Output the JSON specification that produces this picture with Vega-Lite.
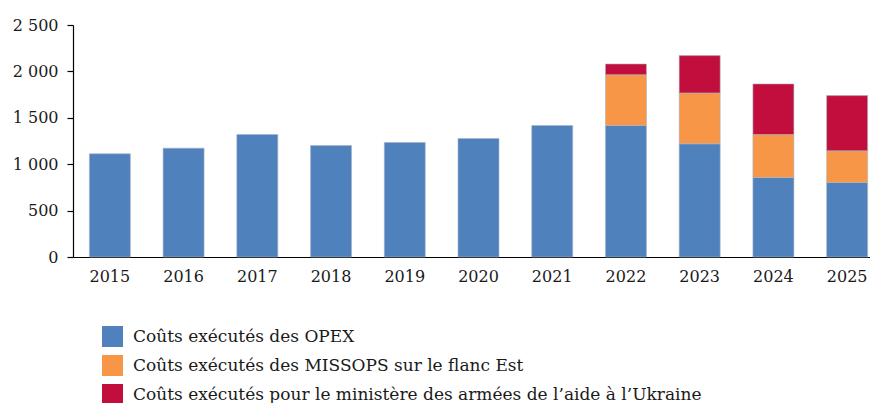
{
  "$schema": "https://vega.github.io/schema/vega-lite/v6.json",
  "autosize": "none",
  "padding": {"left": 73, "top": 25, "right": 0, "bottom": 146},
  "width": 811,
  "height": 232,
  "background": "white",
  "config": {
    "view": {"stroke": null},
    "font": "DejaVu Serif",
    "axis": {"labelFont": "DejaVu Serif", "labelFontSize": 16, "labelColor": "#1a1a1a", "domainColor": "#000000", "tickColor": "#000000", "grid": false, "title": null}
  },
  "data": {
    "values": [
      {"year": "2015", "cat": "Coûts exécutés des OPEX", "rank": 1, "value": 1112},
      {"year": "2016", "cat": "Coûts exécutés des OPEX", "rank": 1, "value": 1173},
      {"year": "2017", "cat": "Coûts exécutés des OPEX", "rank": 1, "value": 1320},
      {"year": "2018", "cat": "Coûts exécutés des OPEX", "rank": 1, "value": 1201},
      {"year": "2019", "cat": "Coûts exécutés des OPEX", "rank": 1, "value": 1234},
      {"year": "2020", "cat": "Coûts exécutés des OPEX", "rank": 1, "value": 1277},
      {"year": "2021", "cat": "Coûts exécutés des OPEX", "rank": 1, "value": 1417},
      {"year": "2022", "cat": "Coûts exécutés des OPEX", "rank": 1, "value": 1417},
      {"year": "2022", "cat": "Coûts exécutés des MISSOPS sur le flanc Est", "rank": 2, "value": 548},
      {"year": "2022", "cat": "Coûts exécutés pour le ministère des armées de l’aide à l’Ukraine", "rank": 3, "value": 115},
      {"year": "2023", "cat": "Coûts exécutés des OPEX", "rank": 1, "value": 1220},
      {"year": "2023", "cat": "Coûts exécutés des MISSOPS sur le flanc Est", "rank": 2, "value": 548},
      {"year": "2023", "cat": "Coûts exécutés pour le ministère des armées de l’aide à l’Ukraine", "rank": 3, "value": 402},
      {"year": "2024", "cat": "Coûts exécutés des OPEX", "rank": 1, "value": 857},
      {"year": "2024", "cat": "Coûts exécutés des MISSOPS sur le flanc Est", "rank": 2, "value": 463},
      {"year": "2024", "cat": "Coûts exécutés pour le ministère des armées de l’aide à l’Ukraine", "rank": 3, "value": 545},
      {"year": "2025", "cat": "Coûts exécutés des OPEX", "rank": 1, "value": 803},
      {"year": "2025", "cat": "Coûts exécutés des MISSOPS sur le flanc Est", "rank": 2, "value": 341},
      {"year": "2025", "cat": "Coûts exécutés pour le ministère des armées de l’aide à l’Ukraine", "rank": 3, "value": 595}
    ]
  },
  "mark": {"type": "bar", "stroke": "#a8b4c4", "strokeWidth": 0.6},
  "encoding": {
    "x": {
      "field": "year", "type": "ordinal",
      "scale": {"paddingInner": 0.444, "paddingOuter": 0.222},
      "axis": {"ticks": false, "labelPadding": 11, "labelAngle": 0, "domainWidth": 1.2}
    },
    "y": {
      "field": "value", "type": "quantitative", "aggregate": "sum", "stack": "zero",
      "scale": {"domain": [0, 2500], "nice": false},
      "axis": {"values": [0, 500, 1000, 1500, 2000, 2500], "tickSize": 6, "labelPadding": 9, "domainWidth": 1.2, "tickWidth": 1.2,
               "labelExpr": "replace(format(datum.value, ','), ',', ' ')"}
    },
    "color": {
      "field": "cat", "type": "nominal",
      "scale": {
        "domain": ["Coûts exécutés des OPEX", "Coûts exécutés des MISSOPS sur le flanc Est", "Coûts exécutés pour le ministère des armées de l’aide à l’Ukraine"],
        "range": ["#4F81BD", "#F79646", "#C20E3C"]
      },
      "legend": {
        "title": null, "orient": "none", "legendX": 29, "legendY": 301, "direction": "vertical",
        "symbolType": "square", "symbolSize": 441, "symbolStrokeWidth": 0, "symbolOpacity": 1,
        "labelFont": "DejaVu Serif", "labelFontSize": 17, "labelColor": "#1a1a1a", "labelOffset": 10,
        "rowPadding": 8, "padding": 0, "labelLimit": 800
      }
    },
    "order": {"field": "rank", "type": "quantitative"}
  }
}
